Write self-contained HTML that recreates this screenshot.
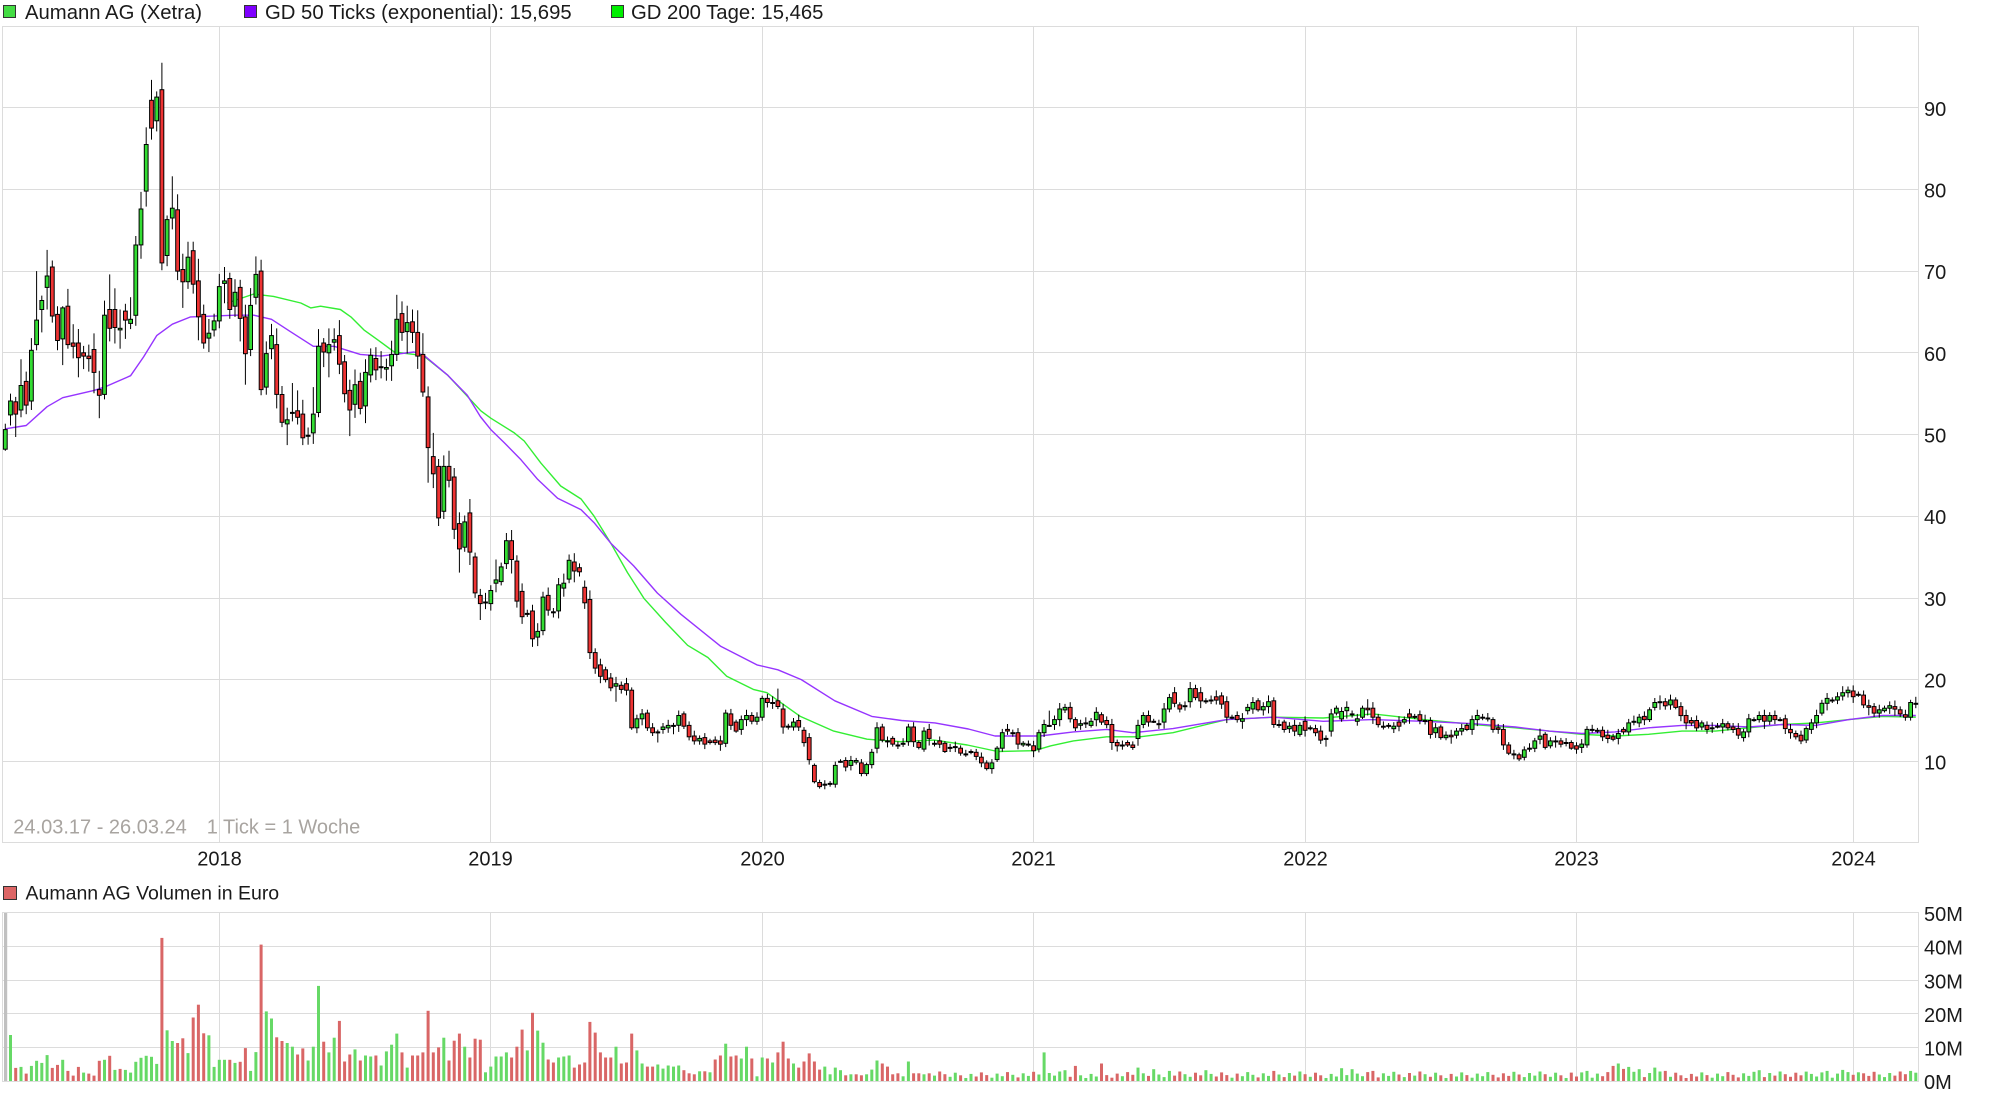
<!DOCTYPE html>
<html>
<head>
<meta charset="utf-8">
<style>
  html,body{margin:0;padding:0;background:#fff;}
  svg{display:block;}
  text{font-family:"Liberation Sans",Arial,sans-serif;}
</style>
</head>
<body>
<svg id="chart" width="1997" height="1103" viewBox="0 0 1997 1103" xmlns="http://www.w3.org/2000/svg">
  <rect x="0" y="0" width="1997" height="1103" fill="#ffffff"/>
  <!-- price panel grid -->
  <g stroke="#dcdcdc" stroke-width="1" fill="none">
    <line x1="3" y1="107.5" x2="1919" y2="107.5"/>
    <line x1="3" y1="189.5" x2="1919" y2="189.5"/>
    <line x1="3" y1="271.5" x2="1919" y2="271.5"/>
    <line x1="3" y1="352.5" x2="1919" y2="352.5"/>
    <line x1="3" y1="434.5" x2="1919" y2="434.5"/>
    <line x1="3" y1="516.5" x2="1919" y2="516.5"/>
    <line x1="3" y1="598.5" x2="1919" y2="598.5"/>
    <line x1="3" y1="679.5" x2="1919" y2="679.5"/>
    <line x1="3" y1="761.5" x2="1919" y2="761.5"/>
    <line x1="219.5" y1="26" x2="219.5" y2="843"/>
    <line x1="490.5" y1="26" x2="490.5" y2="843"/>
    <line x1="762.5" y1="26" x2="762.5" y2="843"/>
    <line x1="1033.5" y1="26" x2="1033.5" y2="843"/>
    <line x1="1305.5" y1="26" x2="1305.5" y2="843"/>
    <line x1="1576.5" y1="26" x2="1576.5" y2="843"/>
    <line x1="1853.5" y1="26" x2="1853.5" y2="843"/>
    <rect x="2.5" y="26.5" width="1916" height="816"/>
  </g>
  <!-- volume panel grid -->
  <g stroke="#dcdcdc" stroke-width="1" fill="none">
    <line x1="3" y1="946.5" x2="1919" y2="946.5"/>
    <line x1="3" y1="980.5" x2="1919" y2="980.5"/>
    <line x1="3" y1="1013.5" x2="1919" y2="1013.5"/>
    <line x1="3" y1="1047.5" x2="1919" y2="1047.5"/>
    <line x1="219.5" y1="913" x2="219.5" y2="1081"/>
    <line x1="490.5" y1="913" x2="490.5" y2="1081"/>
    <line x1="762.5" y1="913" x2="762.5" y2="1081"/>
    <line x1="1033.5" y1="913" x2="1033.5" y2="1081"/>
    <line x1="1305.5" y1="913" x2="1305.5" y2="1081"/>
    <line x1="1576.5" y1="913" x2="1576.5" y2="1081"/>
    <line x1="1853.5" y1="913" x2="1853.5" y2="1081"/>
    <rect x="2.5" y="912.5" width="1916" height="169"/>
  </g>

  <g id="ma"></g>
  <g id="candles"></g>
  <g id="vol"></g>

  <!-- legends -->
  <rect x="3.5" y="5.5" width="12" height="12" fill="#44dd44" stroke="#333" stroke-width="1"/>
  <text x="25" y="19" font-size="20.3" fill="#1a1a1a">Aumann AG (Xetra)</text>
  <rect x="244.5" y="5.5" width="12" height="12" fill="#7f00ff" stroke="#333" stroke-width="1"/>
  <text x="265" y="19" font-size="20.3" fill="#1a1a1a">GD 50 Ticks (exponential): 15,695</text>
  <rect x="611.5" y="5.5" width="12" height="12" fill="#00ee00" stroke="#333" stroke-width="1"/>
  <text x="631" y="19" font-size="20.3" fill="#1a1a1a">GD 200 Tage: 15,465</text>

  <rect x="3.5" y="886.5" width="13" height="13" fill="#dd6666" stroke="#333" stroke-width="1"/>
  <text x="25.5" y="899.5" font-size="19.5" fill="#1a1a1a">Aumann AG Volumen in Euro</text>

  <text x="13.3" y="833.3" font-size="20" fill="#a8a4a0">24.03.17 - 26.03.24</text>
  <text x="206.7" y="833.3" font-size="20" fill="#a8a4a0">1 Tick = 1 Woche</text>

  <!-- price axis -->
  <g font-size="20" fill="#1a1a1a">
    <text x="1924" y="116">90</text>
    <text x="1924" y="197.5">80</text>
    <text x="1924" y="279">70</text>
    <text x="1924" y="361">60</text>
    <text x="1924" y="442.5">50</text>
    <text x="1924" y="524">40</text>
    <text x="1924" y="606">30</text>
    <text x="1924" y="687.5">20</text>
    <text x="1924" y="769.5">10</text>
  </g>
  <!-- year axis -->
  <g font-size="20" fill="#1a1a1a" text-anchor="middle">
    <text x="219.5" y="865.7">2018</text>
    <text x="490.5" y="865.7">2019</text>
    <text x="762.5" y="865.7">2020</text>
    <text x="1033.5" y="865.7">2021</text>
    <text x="1305.5" y="865.7">2022</text>
    <text x="1576.5" y="865.7">2023</text>
    <text x="1853.5" y="865.7">2024</text>
  </g>
  <!-- volume axis -->
  <g font-size="20" fill="#1a1a1a">
    <text x="1924" y="921">50M</text>
    <text x="1924" y="954.6">40M</text>
    <text x="1924" y="988.3">30M</text>
    <text x="1924" y="1021.8">20M</text>
    <text x="1924" y="1055.4">10M</text>
    <text x="1924" y="1089">0M</text>
  </g>
</svg>

<script>
(function(){
  var X=function(i){return 5.3+i*5.22;};
  var Y=function(p){return 843-p*8.17;};
  var VY=function(v){return 1081-v*3.36;};
  var D=[
"48.2,50.6,,48","52.4,54.1,55,51.1","54,52.5,54.6,49.7","53,56,59.2,52.1","56.5,53.6,57.7,",
"54.1,60.3,61.8,","61,64,70,60.3","65.3,66.4,67,62.5","68,69.4,72.6,65.3","70.5,64.5,71.3,63.7",
"64.7,61.5,65.7,60.3","61.7,65.5,65.7,58.5","65.7,61,,60.5","61.2,60.8,63.5,","61.2,59.4,,57",
"60,59.6,,58","59.6,59.3,61,57.7","60.4,57.6,,","55.5,54.8,57.8,52","54.9,64.6,,54.3",
"65.3,63,69.6,61.4","65.3,63.1,67.9,","62.8,63,65.3,60.5","65.1,64,66,61.7","63.6,64.1,66.8,62.9",
"64.6,73.2,74.3,","73.2,77.6,79.7,71.5","79.8,85.5,87.6,77.9","90.9,87.5,93.4,86.1","88.4,91.3,92,87.1",
"92.2,71,95.5,70.1","71.9,76.3,76.8,70.6","76.5,77.7,81.6,75.1","77.5,70,79.4,68.9","70.2,68.7,,65.5",
"68.7,71.7,73.6,","72.5,68.4,73.6,","68.8,64.4,71.5,","64.7,61.2,,60.5","61.8,62.4,,60.1",
"62.8,63.9,,62","63.9,68.1,,63","68.5,68.8,70.5,","69.1,65.3,69.8,","65.7,67.4,69,",
"68,64.2,,61.4","64.4,59.9,,56.1","60.4,65.8,,59.6","66.8,69.6,71.8,","70,55.5,71.4,54.8",
"55.8,59.9,61.4,","60.5,62.1,,","61,54.9,,53.2","54.9,51.5,,50.9","51.3,51.8,,48.7",
"52.6,52.7,56.3,51.6","52.9,52.1,55.4,","52.5,49.6,,48.7","49.8,49.9,,","50.2,52.5,55.8,",
"52.7,60.8,62.9,","61.2,60.1,61.8,","60,61,,57","61.3,61.6,63,","62.1,58.6,64,",
"58.9,55,,","55.4,53,,49.8","53.7,56.1,,","56.5,53.2,,","53.5,57.6,,",
"57.3,59.7,,","59.3,57.9,,","58.2,58.3,,","58,58.2,,","58.4,59.8,,",
"59.8,64.1,67.1,","64.8,62.5,,","62.6,63.7,,","63.8,62.5,65.3,","62.5,59.6,65.2,",
"59.8,55.2,62.4,","54.6,48.4,,44.1","47.3,45.2,50.2,","46.1,39.8,,38.8","40.6,46.1,,",
"46.1,44.4,48,","44.8,38.4,,","39.1,36,,33.1","36.2,39.3,,","40.4,35.6,42.1,",
"35,30.6,,","30.3,29.3,,27.3","29.4,29.5,,","29.3,30.9,,","31.8,32.2,34.7,",
"32,33.8,,","34.2,37,,","37,34.7,,","34.5,29.6,,","30.8,27.7,,",
"28,28.1,,","28.4,25,,","25.2,25.9,,","26,30.1,,","30.3,28.5,,",
"28.2,28.3,,","28.4,31.6,,","31.2,31.8,,","32.3,34.6,,","34.4,33.3,,",
"33.7,33.2,,","31.3,29.4,,","29.8,23.3,,","23.3,21.4,,","21.8,20.4,,",
"21.2,20,,","20.2,19,,","19.2,19.5,,17.3","19.3,18.8,,","19.5,18.7,,",
"18.7,14.1,,","14.1,15.2,,","15.2,15.8,16.4,","15.9,14.1,,","14.1,13.5,,",
"13.5,13.6,,12.3","13.9,14.2,,","14.1,14.4,,","14.4,14.4,14.7,13.3","14.4,15.6,,",
"15.8,14.3,,","14.4,13,,","13.1,12.5,,","12.5,12.8,,","12.9,12.1,,",
"12.5,12.3,,","12.6,12.3,,","12.5,12.1,,","12.2,15.9,,","15.8,14.4,,",
"14.8,13.7,,","13.9,15.1,,","15.1,15.6,,","15.6,14.9,,","14.9,15.4,,",
"15.4,17.7,,","17.7,17.2,,","17.1,17.2,,","17.4,16.7,18.9,","16.4,14.2,,",
"14.2,14.3,,","14.2,14.8,,","15,14.2,,","13.8,12.3,,","12.9,10.2,,",
"9.5,7.5,,","7.4,6.9,,","7.2,7.2,,","7.2,7.3,,","7.2,9.5,,",
"10,10,,","10.1,9.3,,","9.5,10.1,,","9.9,10.1,,","9.8,8.5,,",
"8.5,9.6,,","9.6,11.1,,","11.6,14.1,,","14.2,12.6,,","12.4,12.5,,",
"12.8,12.1,,","11.9,12,,","12.2,12.2,,","12.4,14.2,,","14.2,12.4,,",
"12.3,11.7,,","11.5,13.7,,","13.9,12.8,,","12.2,12.2,,","12.5,12.1,,",
"12.2,11.2,,","11.7,11.7,,","11.8,11.8,,","11.6,11,,","10.9,10.9,,",
"11.2,11.2,,","11.1,10.6,,","10.5,9.8,,","9.8,9.1,,","9.1,9.8,,",
"10.2,11.6,,","11.6,13.5,,","13.9,13.7,,","13.5,13.5,,","13.5,12.1,,",
"12,12.2,,","12.1,12.1,,","11.9,11.3,,","11.5,13.5,,","13.5,14.5,,",
"14.4,14.4,16.2,","14.5,15.1,,","15.1,16.4,,","16.3,16.6,,","16.6,15.2,,",
"15.1,14.1,,","14.4,14.6,,","14.7,14.7,,","14.4,14.9,,","15.1,16,,",
"15.7,14.8,,","15,14.5,,","14.5,12.3,,11.4","12.3,11.9,,11.2","12,12,,",
"12.3,12,,","12,11.7,,","12.8,14.4,,","14.5,15.6,,","15.6,14.8,,",
"14.9,14.9,,","14.6,14.6,,","14.8,16.4,,","16.4,17.8,,","18.4,17.1,,",
"16.9,16.4,,","16.8,16.8,,","17.3,18.9,,","18.9,17.8,,","18.4,17.4,,",
"17.4,17.4,,","17.5,17.5,,","17.9,17.5,,","18,17,,","17.3,15.4,,",
"15.4,15.4,,","15.6,15.1,,","14.9,15.2,,","16.2,16.6,,","16.4,17.2,,",
"17.4,16.3,,","16.3,16.7,,","16.7,17.3,,","17.4,14.5,,","14.5,14.5,,",
"14.8,13.9,,","14,14.3,,","14.4,13.7,,","13.3,14.4,,","14.9,13.8,,",
"14.1,14.1,,","14,13.5,,","13.7,12.6,,","12.8,12.8,,11.8","13.7,15.8,,",
"15.9,16.5,,","15.2,16.1,,","16.2,16.6,,","15.8,15.8,,","14.9,15.2,,",
"15.4,16.5,,","16.5,16.3,17.6,","16.5,15.4,,","15.4,14.5,,","14.3,14.3,,",
"14.4,14.4,,","14,14.3,,","14.8,14.3,,","14.8,15.1,,","15.8,15.4,,",
"15.5,15.5,,","15.7,15,,","15,15,,","15,13.3,,","13.5,14.1,,",
"14.2,12.9,,","12.9,13.2,,","13.2,13,,","13.2,13.7,,","13.7,14,,",
"14.4,13.9,,","13.9,15.1,,","15.1,15.6,,","15.4,15.4,,","15.3,15.3,,",
"15.1,13.9,,","14.1,13.9,,","13.9,12,,","12,11,,","10.9,10.9,,",
"10.8,10.3,,","10.5,11.4,,","11.6,11.6,,","11.6,12.5,,","12.7,13.1,14,",
"13.3,11.7,,","11.9,12.5,,","12.5,12.5,,","12.5,12.1,,","12.3,12.3,,",
"12.3,11.6,,","11.9,11.5,,","11.7,12.1,,","12,13.9,,","13.9,13.9,,",
"13.8,13.8,,","13.8,13,,","13.2,12.8,,","13,12.7,,","12.8,13.4,,",
"13.9,13.6,,","13.6,14.7,,","14.9,14.9,,","14.7,15.4,,","15.5,15.1,,",
"15.1,16.3,,","16.6,17.2,,","17.3,17.3,,","17.3,16.8,,","16.9,17.5,,",
"17.5,16.6,,","16.7,15.6,,","15.6,14.7,,","15,14.7,,","15,14.1,,",
"14.2,14.7,,","14.4,13.9,,","14.1,14.1,,","14.3,14.3,,","14.2,14.6,,",
"14.6,14.1,,","14.2,13.9,,","14,13.2,,","12.9,13.6,,","13.6,15.2,,",
"15.1,15.1,,","15.1,15.6,,","15.6,14.9,,","14.9,15.6,,","15.6,15.1,,",
"15.1,15.1,,","15.2,14,,","13.9,13.5,,","13.4,13,,","13.2,12.5,,",
"12.6,14,,","13.9,14.7,,","14.7,15.6,,","15.9,17.1,,","17.1,17.7,,",
"17.5,17.5,,","17.5,17.9,,","18,18.4,,","18.4,18.7,,","18.6,17.9,,",
"18.2,18.2,,","18.1,16.9,,","16.8,16.6,,","16.7,15.9,,","15.9,16.3,,",
"16.2,16.5,,","16.5,16.8,,","16.7,16.4,,","16.3,15.8,,","15.7,15.4,,",
"15.4,17.2,,","17.1,17.1,17.9,"
  ];
  var V=("0,g;13.7,g;3.9,r;4.2,g;2.2,r;4.5,g;6.0,g;5.4,g;7.7,g;3.9,r;4.8,r;6.3,g;3.0,r;1.6,r;4.2,r;2.5,g;2.2,r;1.6,r;6.0,r;6.3,g;"+
    "7.5,r;3.3,g;3.6,r;3.3,g;2.5,g;5.7,g;6.9,g;7.5,g;7.2,g;5.1,g;42.6,r;15.1,g;11.9,g;11.3,r;12.7,r;8.3,g;18.9,r;22.7,r;14.2,r;13.6,g;"+
    "4.2,g;6.3,g;6.3,g;6.3,r;5.4,g;5.7,r;9.8,r;3.0,g;8.6,g;40.6,r;20.7,g;18.6,g;13.0,r;11.9,r;11.3,g;10.2,g;7.9,r;9.7,r;6.1,g;10.2,g;"+
    "28.3,g;11.7,r;8.5,g;12.9,g;17.9,r;5.8,r;7.9,r;9.4,g;6.1,r;7.6,g;7.3,g;7.6,r;4.6,g;8.8,g;10.8,g;14.1,g;8.5,r;4.0,g;7.6,r;7.6,r;"+
    "8.5,r;20.9,r;8.5,r;10.0,r;12.9,g;6.1,r;12.0,r;14.1,r;10.2,g;7.0,r;12.6,r;12.3,r;2.6,g;4.3,g;7.3,g;7.3,g;8.5,g;7.0,r;10.2,r;15.3,r;"+
    "9.1,g;20.3,r;15.0,g;11.4,g;6.4,r;5.5,r;7.0,g;7.3,g;7.6,g;4.0,r;4.9,r;5.5,r;17.6,r;14.4,r;8.5,r;7.0,r;7.0,r;10.2,g;5.2,r;5.5,r;"+
    "14.1,r;9.1,g;5.2,g;4.3,r;4.3,r;4.9,g;3.7,g;4.6,g;4.3,g;4.6,g;3.2,r;2.3,r;2.0,r;2.9,g;2.9,r;2.6,g;6.4,r;7.6,r;11.1,g;7.3,r;"+
    "7.6,r;6.7,g;10.2,g;6.7,r;1.4,g;7.0,g;6.7,r;5.5,g;8.5,r;11.7,r;6.7,r;5.2,g;4.0,r;5.8,r;8.2,r;5.8,r;3.4,r;4.3,g;2.0,g;4.0,g;"+
    "3.2,g;1.7,r;2.0,g;2.0,r;1.7,r;2.0,g;3.4,g;6.1,g;5.2,r;4.3,r;2.0,r;2.3,r;1.4,g;5.8,g;2.3,r;2.3,r;2.0,g;2.3,r").split(";");
  var over={199:8.5,203:3.2,205:4.5,210:5.2,217:4.0,220:3.5,223:3.0,230:3.2,243:3.0,256:3.8,258:3.5,262:3.0,
    300:2.5,303:3.0,308:4.5,309:5.2,310:3.6,311:4.2,313:3.5,316:4.0,318:3.0,336:3.2,345:2.8,349:3.0,352:3.3,355:2.6,365:3.0};

  var s='';
  var GREEN='#33dd33', RED='#ee3333';
  for(var i=0;i<D.length;i++){
    var a=D[i].split(',');
    var o=parseFloat(a[0]), c=parseFloat(a[1]);
    var mx=Math.max(o,c), mn=Math.min(o,c);
    var f=0.6+((i*7)%5)/5;
    var e=(0.02*mx+0.2)*f;
    var h=a[2]!==''&&a[2]!==undefined?parseFloat(a[2]):mx+e;
    var l=a[3]!==''&&a[3]!==undefined?parseFloat(a[3]):mn-e*(0.7+((i*3)%4)/5);
    var x=X(i);
    s+='<line x1="'+x.toFixed(1)+'" y1="'+Y(h).toFixed(1)+'" x2="'+x.toFixed(1)+'" y2="'+Y(l).toFixed(1)+'" stroke="#000" stroke-width="1"/>';
    var yt=Y(mx), yb=Y(mn), bh=Math.max(yb-yt,1);
    s+='<rect x="'+(x-1.9).toFixed(1)+'" y="'+yt.toFixed(1)+'" width="3.8" height="'+bh.toFixed(1)+'" fill="'+(c>=o?GREEN:RED)+'" stroke="#000" stroke-width="1"/>';
  }
  document.getElementById('candles').innerHTML=s;

  // volume
  var vs='';
  vs+='<rect x="4" y="913" width="3.2" height="168" fill="#c0c0c0"/>';
  for(var i=1;i<D.length;i++){
    var v,col;
    if(i<V.length){var p=V[i].split(',');v=parseFloat(p[0]);col=p[1]==='g'?'#66d966':'#d96666';}
    else{
      var a=D[i].split(',');
      var up=parseFloat(a[1])>=parseFloat(a[0]);
      v=over[i]!==undefined?over[i]:(0.9+((i*37)%23)/23*2.0);
      col=up?'#66d966':'#d96666';
    }
    v=Math.min(v,50);
    var yt=VY(v);
    vs+='<rect x="'+(X(i)-1.5).toFixed(1)+'" y="'+yt.toFixed(1)+'" width="3" height="'+(1081-yt).toFixed(1)+'" fill="'+col+'"/>';
  }
  document.getElementById('vol').innerHTML=vs;

  // moving averages
  var P=[[0,50.7],[4,51.1],[8,53.4],[11,54.5],[17,55.4],[19,55.8],[24,57.2],[26.5,59.5],[29,62.1],[32,63.5],[35.5,64.4],[44,64.6],[47.6,64.6],[51,64.1],[54.6,62.6],[59,60.8],[63,60.8],[68,59.8],[72,59.6],[78.3,60.1],[80.2,59.7],[84.7,57.3],[88.5,54.8],[91,52.2],[93,50.6],[95.6,49.0],[98.8,46.9],[102,44.5],[105.8,42.2],[110.3,40.8],[112.8,39.2],[116,36.7],[120.4,33.9],[124.9,30.6],[129.4,28.0],[137,24.1],[144,21.8],[148,21.2],[152.5,20.0],[158.9,17.4],[166,15.5],[171.7,15.0],[178.1,14.7],[184.5,13.95],[189.6,13.1],[198.2,13.1],[204.6,13.6],[211,13.9],[216,13.5],[223.7,14.0],[230.1,14.7],[234,15.1],[243,15.4],[252.5,14.9],[262,15.1],[271.7,14.9],[281.3,14.6],[289.3,14.2],[295.7,13.7],[302,13.4],[308.4,13.6],[314.8,14.1],[321.2,14.4],[327.6,14.4],[334,14.2],[340.4,14.5],[346.8,14.4],[353.2,15.1],[359.6,15.6],[366,15.6]];
  var G=[[42.5,66.1],[47.6,67.2],[51.4,66.9],[56.6,66.1],[58.5,65.5],[60.4,65.7],[64.2,65.3],[66.2,64.4],[68.7,62.8],[71.3,61.6],[74.5,60.1],[78.3,59.8],[80.2,59.6],[84.7,57.3],[87.9,55.1],[91.1,52.9],[93,52.0],[97.5,50.2],[99.4,49.2],[102.6,46.5],[106.4,43.7],[110.3,42.1],[112.8,40.0],[116,36.7],[119.2,33.1],[122.4,29.9],[126.5,27.0],[130.7,24.2],[134.6,22.7],[138.2,20.4],[143.3,18.8],[145.9,18.4],[152.3,15.5],[158.7,13.7],[165.1,12.7],[171.5,12.4],[177.9,12.6],[184.3,12.0],[190.1,11.2],[197.1,11.3],[200.3,11.9],[204.6,12.5],[211,13.0],[217.4,13.0],[223.7,13.5],[230.1,14.5],[234,15.1],[243,15.4],[252.5,15.3],[262,15.8],[271.7,15.1],[281.3,14.5],[289.3,14.1],[295.7,13.7],[302,13.3],[308.4,13.1],[314.8,13.3],[321.2,13.7],[327.6,13.7],[334,14.1],[340.4,14.5],[346.8,14.7],[353.2,15.1],[359.6,15.5],[366,15.4]];
  function pts(A){return A.map(function(q){return X(q[0]).toFixed(1)+','+Y(q[1]).toFixed(1);}).join(' ');}
  document.getElementById('ma').innerHTML=
    '<polyline points="'+pts(G)+'" fill="none" stroke="#33ee33" stroke-width="1.4" stroke-linejoin="round"/>'+
    '<polyline points="'+pts(P)+'" fill="none" stroke="#9634ff" stroke-width="1.4" stroke-linejoin="round"/>';
})();
</script>
</body>
</html>
